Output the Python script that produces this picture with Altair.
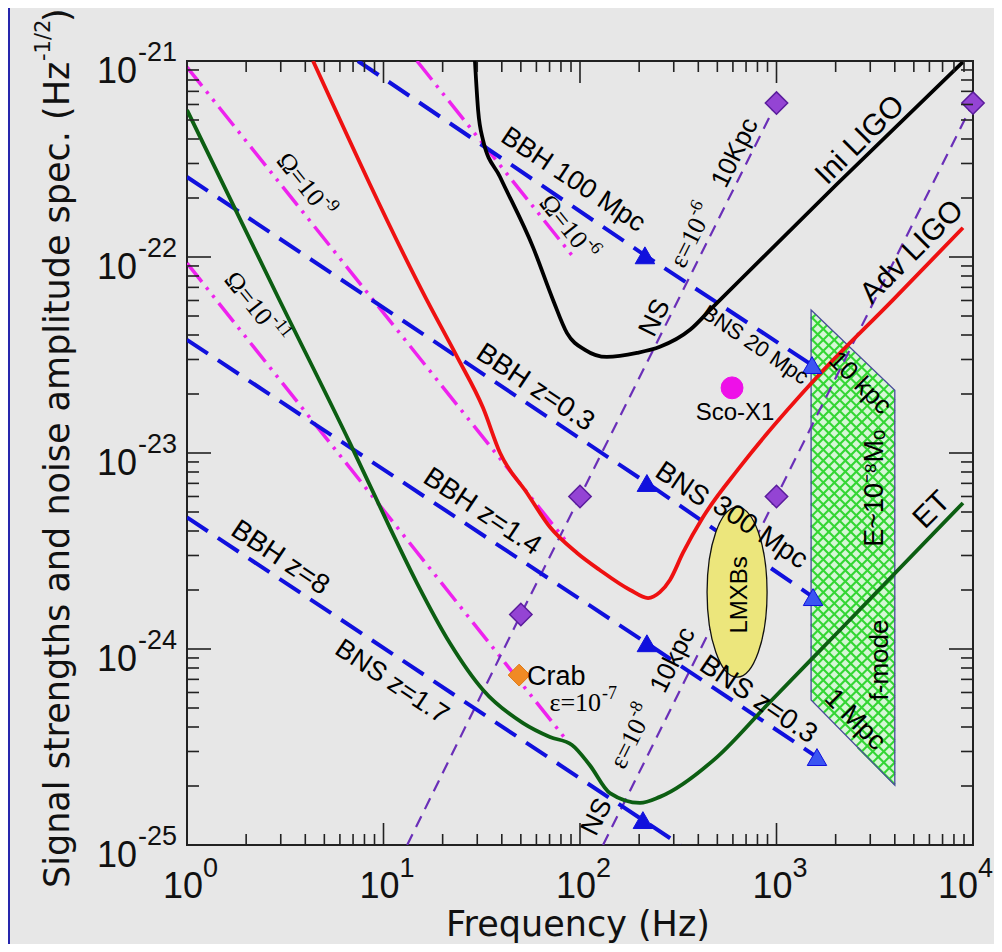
import altair as alt
import numpy as np
import pandas as pd

# ---------------- values ----------------
# detector noise curves: frequency (Hz), amplitude spectrum (Hz^-1/2)
ini_f = [29.2, 30.3, 32.1, 39.2, 57.7, 72.9, 85.9, 106, 137, 195, 255, 363, 459, 2009, 8890]
ini_h = [1.0e-21, 5.62e-22, 3.95e-22, 2.56e-22, 1.12e-22, 6.04e-23, 4.09e-23, 3.36e-23,
         3.09e-23, 3.24e-23, 3.48e-23, 4.25e-23, 5.37e-23, 2.33e-22, 9.89e-22]

adv_f = [4.38, 16.6, 23.7, 32.1, 39.2, 53.7, 70.3, 96.6, 126, 180, 222, 255, 287, 334, 423,
         652, 1607, 3917, 8890]
adv_h = [1.0e-21, 6.04e-23, 3.09e-23, 1.7e-23, 1.0e-23, 6.25e-24, 4.19e-24, 3.09e-24,
         2.53e-24, 2.0e-24, 1.82e-24, 1.95e-24, 2.25e-24, 3.09e-24, 4.71e-24, 8.49e-24,
         2.44e-23, 6.04e-23, 1.41e-22]

et_f = [1.0, 2.87, 6.76, 10.8, 14.8, 21.8, 32.1, 51.3, 70.3, 91, 112, 142, 202, 255, 498,
        895, 2104, 8890]
et_h = [5.62e-22, 6.4e-23, 1.12e-23, 4.14e-24, 2.17e-24, 1.07e-24, 6.18e-25, 4.19e-25,
        3.56e-25, 3.24e-25, 2.56e-25, 1.84e-25, 1.64e-25, 1.76e-25, 2.81e-25, 5.18e-25,
        1.25e-24, 5.56e-24]

# inspiral signals (blue dashed): start, BBH end (triangle), BNS end (triangle)
insp_a_f = [7.41, 214, 1517]
insp_a_h = [1.0e-21, 1.02e-22, 2.81e-23]
insp_b_f = [1.0, 219, 1535]
insp_b_h = [2.56e-22, 7.03e-24, 1.84e-24]
insp_c_f = [1.0, 219, 1607]
insp_c_h = [3.78e-23, 1.07e-24, 2.81e-25]
insp_d_f = [1.0, 209, 324]
insp_d_h = [4.69e-24, 1.34e-25, 1.0e-25]
bbh_end_f = [214, 219, 219, 209]
bbh_end_h = [1.02e-22, 7.03e-24, 1.07e-24, 1.34e-25]
bns_end_f = [1517, 1535, 1607]
bns_end_h = [2.81e-23, 1.84e-24, 2.81e-25]

# stochastic backgrounds (magenta dash-dot)
om6_f, om6_h = [14.8, 91], [1.0e-21, 1.02e-22]
om9_f, om9_h = [1.0, 84], [9.3e-22, 3.6e-24]
om11_f, om11_h = [1.0, 84], [9.3e-23, 3.5e-25]

# neutron-star continuous waves (purple dashed) and their diamonds
ns1_f, ns1_h = [13.2, 50, 100, 1000], [1.0e-25, 1.5e-24, 6.0e-24, 6.1e-22]
ns2_f, ns2_h = [131, 1000, 10000], [1.0e-25, 6.0e-24, 6.1e-22]
dia_f = [50, 100, 1000, 1000, 10000]
dia_h = [1.5e-24, 6.0e-24, 6.1e-22, 6.0e-24, 6.1e-22]

sco_f, sco_h = [594], [2.15e-23]
crab_f, crab_h = [49], [7.36e-25]
lmxb_f, lmxb_h = [630], [1.95e-24]

# f-mode band (polygon between two edges)
fmode_f = [1500, 4000]
fmode_top = [5.37e-23, 2.09e-23]
fmode_bot = [5.5e-25, 2.02e-25]

# annotations: text, f, h, angle, font size
sans_labels = [
    ("BBH 100 Mpc", 92.1, 2.47e-22, 33.6, 27),
    ("Ini LIGO", 2661, 3.95e-22, 315, 30),
    ("Adv LIGO", 4896, 1.06e-22, 315, 30),
    ("ET", 6183, 5.12e-24, 315, 30),
    ("BBH z=0.3", 59.0, 2.15e-23, 33.6, 28),
    ("BBH z=1.4", 31.7, 5.0e-24, 33.6, 28),
    ("BBH z=8", 2.97, 2.91e-24, 33.6, 28),
    ("BNS z=1.7", 11.0, 6.79e-25, 33.6, 27),
    ("BNS 20 Mpc", 778, 3.56e-23, 34, 22),
    ("BNS", 330, 6.87e-24, 34, 28),
    ("300 Mpc", 824, 3.91e-24, 34, 28),
    ("BNS z=0.3", 805, 5.5e-25, 34, 28),
    ("10kpc", 297, 8.79e-25, 296.6, 26),
    ("NS", 122, 1.39e-25, 296.6, 27),
    ("NS", 241, 4.89e-23, 296.6, 27),
    ("10Kpc", 615, 3.4e-22, 296.6, 26),
    ("Sco-X1", 615, 1.6e-23, 0, 24),
    ("LMXBs", 652, 1.89e-24, 270, 24),
    ("E~10⁻⁸Mₒ", 3170, 6.6e-24, 270, 27),
    ("f-mode", 3365, 8.79e-25, 270, 26),
    ("10 kpc", 2661, 2.28e-23, 45, 26),
    ("1 Mpc", 2506, 4.35e-25, 45, 27),
]
# power-of-ten labels: base text, exponent, anchor (f, h) at the join, angle
serif_pow_labels = [
    ("Ω=10", "-6", 102.4, 1.15e-22, 51.4),
    ("Ω=10", "-9", 4.70, 1.89e-22, 51.4),
    ("Ω=10", "-11", 2.55, 4.66e-23, 51.4),
    ("ε=10", "-8", 202, 4.30e-25, 296.6),
    ("ε=10", "-6", 408, 1.55e-22, 296.6),
    ("ε=10", "-7", 128, 5.3e-25, 0),
]
crab_label = [("Crab", 53.7, 7.19e-25, 0, 27)]

x_major = [1, 10, 100, 1000, 10000]
x_exp = ["0", "1", "2", "3", "4"]
y_major = [1e-21, 1e-22, 1e-23, 1e-24, 1e-25]
y_exp = ["-21", "-22", "-23", "-24", "-25"]
x_minor = [m * 10 ** k for k in range(4) for m in range(2, 10)]
y_minor = [m * 10.0 ** k for k in range(-25, -21) for m in range(2, 10)]

# ---------------- chart ----------------
W, H = 786, 784
SANS = "Liberation Sans"
SERIF = "Liberation Serif"
XS = alt.Scale(type="log", domain=[1, 1e4], nice=False)
YS = alt.Scale(type="log", domain=[1e-25, 1e-21], nice=False)
X = alt.X("f:Q", scale=XS, axis=None)
Y = alt.Y("h:Q", scale=YS, axis=None)


def df(fs, hs):
    return pd.DataFrame({"f": fs, "h": hs, "i": list(range(len(fs)))})


def curve(fs, hs, color, width, dash=None, interp="linear"):
    kw = dict(color=color, strokeWidth=width, clip=True, interpolate=interp)
    if dash:
        kw["strokeDash"] = dash
    return alt.Chart(df(fs, hs)).mark_line(**kw).encode(x=X, y=Y, order="i:Q")


def points(fs, hs, **kw):
    return alt.Chart(df(fs, hs)).mark_point(filled=True, opacity=1, **kw).encode(x=X, y=Y)


def labels(rows, font, align="center"):
    d = pd.DataFrame(rows, columns=["t", "f", "h", "a", "s"])
    return alt.Chart(d).mark_text(font=font, align=align, baseline="middle", color="black").encode(
        x=X, y=Y, text="t:N",
        angle=alt.Angle("a:Q", scale=None),
        size=alt.Size("s:Q", scale=None),
    )


# cross-hatch decoration of the f-mode band, clipped to its edges (log space)
def hatch_segments(step=0.056):
    L, R = np.log10(fmode_f[0]), np.log10(fmode_f[1])
    t0, t1 = np.log10(fmode_top[0]), np.log10(fmode_top[1])
    b0, b1 = np.log10(fmode_bot[0]), np.log10(fmode_bot[1])
    bt, bb = (t1 - t0) / (R - L), (b1 - b0) / (R - L)
    rows = []
    for s in (1.0, -1.0):
        cmin = min(b0, b1 - s * (R - L)) - 0.5
        cmax = max(t0, t1 - s * (R - L)) + 0.5
        for c in np.arange(cmin, cmax, step):
            lo, hi = 0.0, R - L
            for k, m in ((s - bt, t0 - c), (bb - s, c - b0)):
                if abs(k) < 1e-12:
                    if m < 0:
                        lo, hi = 1.0, 0.0
                elif k > 0:
                    hi = min(hi, m / k)
                else:
                    lo = max(lo, m / k)
            if hi > lo:
                rows.append({"f": 10 ** (L + lo), "h": 10 ** (c + s * lo),
                             "f2": 10 ** (L + hi), "h2": 10 ** (c + s * hi)})
    return pd.DataFrame(rows)


layers = []

# blue frame strip on the left
layers.append(alt.Chart(pd.DataFrame({"a": [0]})).mark_rect(color="#2626ad").encode(
    x=alt.value(-179), x2=alt.value(-177), y=alt.value(-53), y2=alt.value(890)))

# f-mode band
fm = pd.DataFrame({"f": fmode_f, "top": fmode_top, "bot": fmode_bot})
layers.append(alt.Chart(fm).mark_area(fill="#d6f7d6", opacity=1).encode(
    x=X, y=alt.Y("top:Q", scale=YS, axis=None), y2="bot:Q"))
layers.append(alt.Chart(hatch_segments()).mark_rule(color="#34d634", strokeWidth=2.1).encode(
    x=X, y=Y, x2="f2:Q", y2="h2:Q"))
layers.append(alt.Chart(fm).mark_area(fillOpacity=0, stroke="#4b4b9c", strokeWidth=1.3).encode(
    x=X, y=alt.Y("top:Q", scale=YS, axis=None), y2="bot:Q"))

# stochastic backgrounds
mag = "#ee22ee"
for fs, hs in [(om6_f, om6_h), (om9_f, om9_h), (om11_f, om11_h)]:
    layers.append(curve(fs, hs, mag, 3.5, [24, 7, 3, 7, 3, 7]))

# NS lines
pur = "#6a2fb8"
layers.append(curve(ns1_f, ns1_h, pur, 2.2, [12, 8]))
layers.append(curve(ns2_f, ns2_h, pur, 2.2, [12, 8]))

# inspirals
blue = "#1010dd"
for fs, hs in [(insp_a_f, insp_a_h), (insp_b_f, insp_b_h), (insp_c_f, insp_c_h), (insp_d_f, insp_d_h)]:
    layers.append(curve(fs, hs, blue, 4, [25, 12]))

# detectors
layers.append(curve(ini_f, ini_h, "#000000", 3.8, interp="monotone"))
layers.append(curve(adv_f, adv_h, "#ee1111", 3.8, interp="monotone"))
layers.append(curve(et_f, et_h, "#0c5e12", 3.8, interp="monotone"))

# markers
layers.append(points(bbh_end_f, bbh_end_h, shape="triangle-up", size=380, fill=blue, stroke=blue, strokeWidth=1))
layers.append(points(bns_end_f, bns_end_h, shape="triangle-up", size=380, fill="#3b55f2", stroke=blue, strokeWidth=1))
layers.append(points(dia_f, dia_h, shape="diamond", size=500, fill="#9444d4", stroke="#5a1c9c", strokeWidth=1.5))
layers.append(points(crab_f, crab_h, shape="diamond", size=480, fill="#f08a24", stroke="#e07a14", strokeWidth=1))
layers.append(points(sco_f, sco_h, shape="circle", size=480, fill="#ee10e8", stroke="#ee10e8", strokeWidth=1))
ell = "M0,-1A0.353,1 0 1,1 0,1A0.353,1 0 1,1 0,-1Z"
layers.append(points(lmxb_f, lmxb_h, shape=ell, size=28900, fill="#ece67c", stroke="#111111", strokeWidth=1.3))

# annotations
layers.append(labels(sans_labels, SANS))
layers.append(labels(crab_label, SANS, align="left"))
pw = pd.DataFrame(serif_pow_labels, columns=["b", "e", "f", "h", "a"])
layers.append(alt.Chart(pw).mark_text(font=SERIF, fontSize=26, align="right", baseline="middle", color="black").encode(
    x=X, y=Y, text="b:N", angle=alt.Angle("a:Q", scale=None)))
layers.append(alt.Chart(pw).mark_text(font=SERIF, fontSize=18, align="left", baseline="middle", dx=1, dy=-9,
                                      color="black").encode(
    x=X, y=Y, text="e:N", angle=alt.Angle("a:Q", scale=None)))

# ticks (inside, on all four sides)
tick = dict(color="#222222", strokeWidth=1.6)
xm = pd.DataFrame({"f": x_major})
xn = pd.DataFrame({"f": x_minor})
ym = pd.DataFrame({"h": y_major})
yn = pd.DataFrame({"h": y_minor})
layers += [
    alt.Chart(xm).mark_rule(**tick).encode(x=X, y=alt.value(H), y2=alt.value(H - 22)),
    alt.Chart(xn).mark_rule(**tick).encode(x=X, y=alt.value(H), y2=alt.value(H - 11)),
    alt.Chart(xm).mark_rule(**tick).encode(x=X, y=alt.value(0), y2=alt.value(22)),
    alt.Chart(xn).mark_rule(**tick).encode(x=X, y=alt.value(0), y2=alt.value(11)),
    alt.Chart(ym).mark_rule(**tick).encode(y=Y, x=alt.value(0), x2=alt.value(24)),
    alt.Chart(yn).mark_rule(**tick).encode(y=Y, x=alt.value(0), x2=alt.value(12)),
    alt.Chart(ym).mark_rule(**tick).encode(y=Y, x=alt.value(W), x2=alt.value(W - 24)),
    alt.Chart(yn).mark_rule(**tick).encode(y=Y, x=alt.value(W), x2=alt.value(W - 12)),
]

# tick labels 10^k (the last one nudged so it stays inside the page)
xt = pd.DataFrame({"f": x_major[:-1], "b": ["10"] * 4, "e": x_exp[:-1]})
xt_last = pd.DataFrame({"f": x_major[-1:], "b": ["10"], "e": x_exp[-1:]})
yt = pd.DataFrame({"h": y_major, "b": ["10"] * 5, "e": y_exp})
for d, dx in ((xt, 16), (xt_last, 5)):
    layers += [
        alt.Chart(d).mark_text(font=SANS, fontSize=36, align="right", baseline="alphabetic", dx=dx, color="#111").encode(
            x=X, y=alt.value(H + 53), text="b:N"),
        alt.Chart(d).mark_text(font=SANS, fontSize=27, align="left", baseline="alphabetic", dx=dx, color="#111").encode(
            x=X, y=alt.value(H + 32), text="e:N"),
    ]
layers += [
    alt.Chart(yt).mark_text(font=SANS, fontSize=36, align="right", baseline="alphabetic", dy=22, color="#111").encode(
        y=Y, x=alt.value(-50), text="b:N"),
    alt.Chart(yt).mark_text(font=SANS, fontSize=27, align="left", baseline="alphabetic", dy=0, color="#111").encode(
        y=Y, x=alt.value(-49), text="e:N"),
]

# axis titles
one = pd.DataFrame({"a": [0]})
TF = "DejaVu Sans"
layers += [
    alt.Chart(one).mark_text(font=TF, fontSize=35, align="center", baseline="alphabetic", text="Frequency (Hz)", color="#111").encode(
        x=alt.value(391), y=alt.value(875)),
    alt.Chart(one).mark_text(font=TF, fontSize=35, align="left", baseline="alphabetic", angle=270,
                             text="Signal strengths and noise amplitude spec. (Hz", color="#111").encode(
        x=alt.value(-118), y=alt.value(827)),
    alt.Chart(one).mark_text(font=TF, fontSize=21, align="left", baseline="alphabetic", angle=270,
                             text="-1/2", color="#111").encode(x=alt.value(-137), y=alt.value(0)),
    alt.Chart(one).mark_text(font=TF, fontSize=35, align="left", baseline="alphabetic", angle=270,
                             text=")", color="#111").encode(x=alt.value(-118), y=alt.value(-39)),
]

chart = alt.layer(*layers).properties(
    width=W, height=H,
    autosize=alt.AutoSizeParams(type="none"),
    padding={"left": 179, "top": 53, "right": 21, "bottom": 99},
    background="#e7e7e7",
).configure_view(stroke="#222222", strokeWidth=2)

chart.save("out.html", embed_options={"renderer": "svg", "actions": False})
